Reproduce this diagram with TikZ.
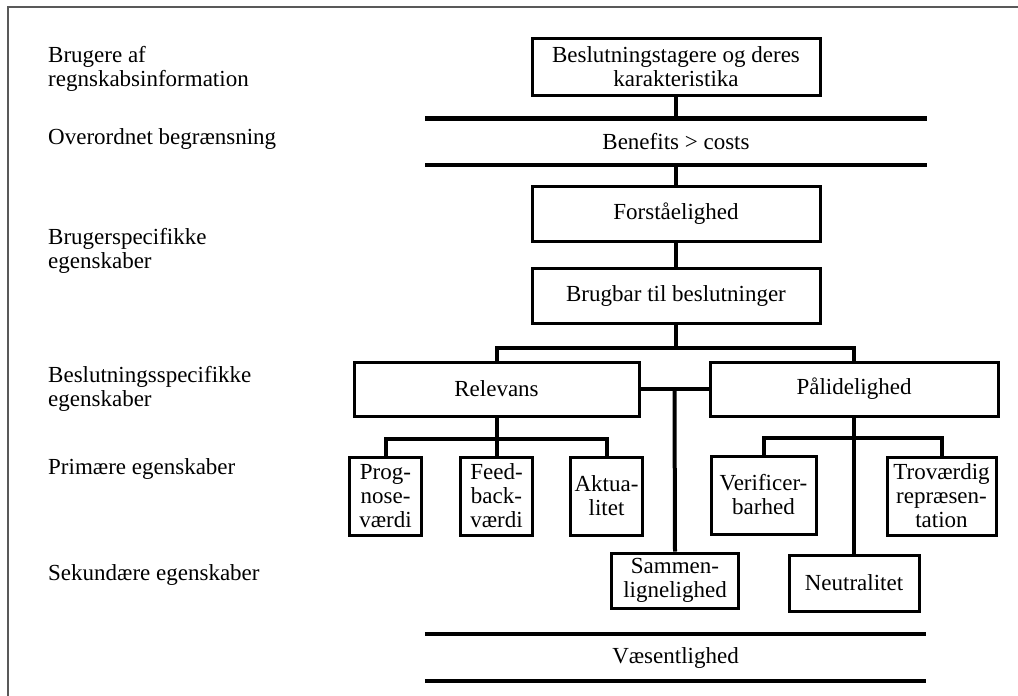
\documentclass[tikz,border=0pt]{standalone}
\usepackage{fontspec}
\setmainfont{Liberation Serif}
\usetikzlibrary{positioning,calc}

\begin{document}
\begin{tikzpicture}[x=1pt,y=1pt,
    font=\fontsize{23}{24}\selectfont,
    box/.style={draw, line width=3pt, inner sep=0pt, align=center},
    band/.style={inner sep=0pt, minimum width=501pt, minimum height=47pt},
    conn/.style={line width=4pt},
    barline/.style={line width=4.5pt},
    lbl/.style={anchor=west, inner sep=0pt, align=left},
    frame/.style={black!65, line width=1.5pt}]
            \useasboundingbox (0,0) rectangle (1018,-696);
            \draw[frame] (8,-696) -- (8,-7) -- (1018,-7);

            % labels on the left
            \node[lbl] (l1) at (48,-69) {Brugere af\\regnskabsinformation};
            \node[lbl] (l2) at (48,-139) {Overordnet begrænsning};
            \node[lbl] (l3) at (48,-251) {Brugerspecifikke\\egenskaber};
            \node[lbl] (l4) at (48,-389) {Beslutningsspecifikke\\egenskaber};
            \node[lbl] (l5) at (48,-469) {Primære egenskaber};
            \node[lbl] (l6) at (48,-575) {Sekundære egenskaber};

            % main column
            \node[box, minimum width=288pt, minimum height=57pt] (bes) at (676,-66.5) {Beslutningstagere og deres\\karakteristika};
            \node[band, minimum height=46pt] (ben) [below=22pt of bes] {Benefits > costs};
            \node[box, minimum width=288pt, minimum height=55pt] (for) [below=20pt of ben] {Forståelighed};
            \node[box, minimum width=288pt, minimum height=55pt] (bru) [below=24pt of for] {Brugbar til beslutninger};

            \node[box, minimum width=285pt, minimum height=54pt] (rel) at (496.5,-389) {Relevans};
            \node[box, minimum width=288pt, minimum height=54pt] (pal) at (854,-389) {Pålidelighed};

            \node[box, minimum width=72pt, minimum height=78pt] (fee) [below=38pt of rel] {Feed-\\back-\\værdi};
            \node[box, minimum width=72pt, minimum height=78pt] (pro) [left=36pt of fee] {Prog-\\nose-\\værdi};
            \node[box, minimum width=72pt, minimum height=78pt] (akt) [right=35pt of fee] {Aktua-\\litet};

            \node[box, minimum width=105pt, minimum height=78pt] (ver) [below right=37pt and 1pt of pal.south west] {Verificer-\\barhed};
            \node[box, minimum width=109pt, minimum height=78pt] (tro) [below left=38pt and 2pt of pal.south east] {Troværdig\\repræsen-\\tation};
            \node[box, minimum width=130pt, minimum height=56pt] (neu) [below=136pt of pal] {Neutralitet};
            \node[box, minimum width=127pt, minimum height=55pt] (sam) at (675,-580.5) {Sammen-\\lignelighed};

            \node[band] (vae) at (675.5,-657.5) {Væsentlighed};

            % bars
            \draw[barline] (ben.north west) -- (ben.north east);
            \draw[barline] (ben.south west) -- (ben.south east);
            \draw[barline] (vae.north west) -- (vae.north east);
            \draw[barline] (vae.south west) -- (vae.south east);

            % connectors
            \draw[conn] (bes) -- (ben.north);
            \draw[conn] (ben.south) -- (for);
            \draw[conn] (for) -- (bru);

            \coordinate (fork) at ($(bru.south)+(0,-23)$);
            \draw[conn] (bru) -- (fork);
            \draw[conn] (rel.north) |- (fork) -| (pal.north);

            \draw[conn] (rel.east) -- (pal.west);
            \coordinate (mid) at ($(rel.east)!0.5!(pal.west)$);
            \draw[conn] (mid) -- (sam.north);

            \coordinate (rfork) at ($(rel.south)+(0,-21)$);
            \draw[conn] (rel) -- (fee);
            \draw[conn] (pro.north) |- (rfork) -| (akt.north);

            \coordinate (pfork) at ($(pal.south)+(0,-20)$);
            \draw[conn] (pal) -- (neu);
            \draw[conn] (ver.north) |- (pfork) -| (tro.north);
        \end{tikzpicture}
\end{document}
